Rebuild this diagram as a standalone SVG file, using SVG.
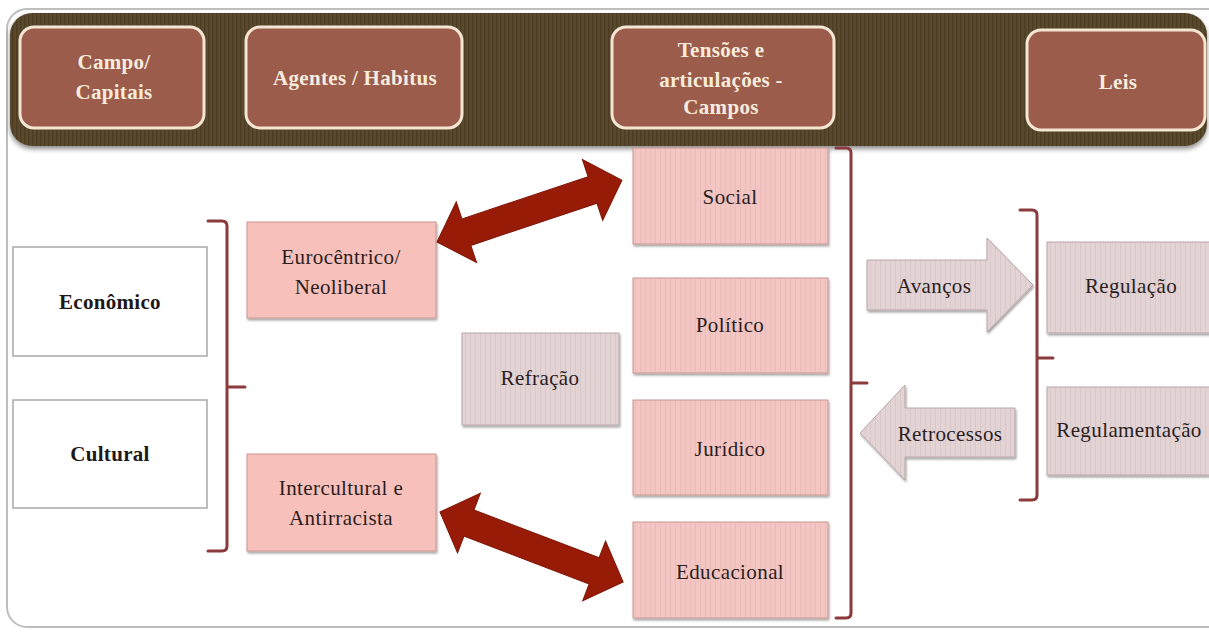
<svg xmlns="http://www.w3.org/2000/svg" width="1209" height="633" viewBox="0 0 1209 633">
<defs>
<pattern id="stripe" width="4" height="10" patternUnits="userSpaceOnUse">
<rect width="4" height="10" fill="#5a4a2d"/>
<rect width="1.5" height="10" fill="#4c3d23"/>
</pattern>
<pattern id="pinkstripe" width="5" height="10" patternUnits="userSpaceOnUse">
<rect width="5" height="10" fill="#f4c6c3"/>
<rect width="1" height="10" fill="#ecbab7"/>
</pattern>
<pattern id="greystripe" width="5" height="10" patternUnits="userSpaceOnUse">
<rect width="5" height="10" fill="#e3d3d5"/>
<rect width="1" height="10" fill="#d9c8ca"/>
</pattern>
<filter id="sh" x="-10%" y="-10%" width="125%" height="130%">
<feDropShadow dx="1" dy="2" stdDeviation="1.2" flood-color="#000" flood-opacity="0.35"/>
</filter>
<filter id="sh2" x="-10%" y="-10%" width="125%" height="130%">
<feDropShadow dx="0" dy="3" stdDeviation="2.5" flood-color="#000" flood-opacity="0.45"/>
</filter>
</defs>
<style>
.hbox{fill:#9b5c4c;stroke:#f4e6d2;stroke-width:3}
.htxt{font-weight:bold;font-size:21px;fill:#f7ecdc;text-anchor:middle;letter-spacing:0.3px}
.wbox{fill:#fff;stroke:#a9a9a9;stroke-width:1.5}
.pbox{fill:#f8c0bb;stroke:#c99692;stroke-width:1}
.sbox{fill:url(#pinkstripe);stroke:#c99692;stroke-width:1}
.gbox{fill:url(#greystripe);stroke:#b9a7a9;stroke-width:1}
.txt{font-size:21px;fill:#2a1e1e;text-anchor:middle;letter-spacing:0.4px}
.btxt{font-weight:bold;font-size:21px;fill:#1e1818;text-anchor:middle;letter-spacing:0.3px}
.brk{fill:none;stroke:#8c3b3d;stroke-width:3;stroke-linecap:round}
.big{fill:#981b08;stroke:#7e1506;stroke-width:1}
.garr{fill:url(#greystripe);stroke:#b6a5a7;stroke-width:1}
</style>
<rect x="0" y="0" width="1209" height="633" fill="#fff"/>
<rect x="7" y="9" width="1230" height="618" rx="20" fill="#fff" stroke="#bdbdbd" stroke-width="2"/>
<rect x="10" y="13" width="1197" height="133" rx="22" fill="url(#stripe)" filter="url(#sh2)"/>

<g font-family="Liberation Serif, serif">
<g id="h-campo"><rect class="hbox" x="20" y="27" width="184" height="101" rx="14"/>
<text class="htxt" x="114" y="69">Campo/</text><text class="htxt" x="114" y="99">Capitais</text></g>
<g id="h-agentes"><rect class="hbox" x="246" y="27" width="216" height="101" rx="14"/>
<text class="htxt" x="355" y="85">Agentes / Habitus</text></g>
<g id="h-tensoes"><rect class="hbox" x="612" y="27" width="222" height="101" rx="14"/>
<text class="htxt" x="721" y="57">Tensões e</text><text class="htxt" x="721" y="87">articulações -</text><text class="htxt" x="721" y="114">Campos</text></g>
<g id="h-leis"><rect class="hbox" x="1027" y="30" width="178" height="100" rx="14"/>
<text class="htxt" x="1118" y="89">Leis</text></g>

<g id="economico"><rect class="wbox" x="13" y="247" width="194" height="109"/>
<text class="btxt" x="110" y="309">Econômico</text></g>
<g id="cultural"><rect class="wbox" x="13" y="400" width="194" height="108"/>
<text class="btxt" x="110" y="461">Cultural</text></g>

<g id="eurocentrico"><rect class="pbox" x="247" y="222" width="189" height="96" filter="url(#sh)"/>
<text class="txt" x="341" y="264">Eurocêntrico/</text><text class="txt" x="341" y="294">Neoliberal</text></g>
<g id="intercultural"><rect class="pbox" x="247" y="454" width="189" height="97" filter="url(#sh)"/>
<text class="txt" x="341" y="495">Intercultural e</text><text class="txt" x="341" y="525">Antirracista</text></g>

<g id="refracao"><rect class="gbox" x="462" y="333" width="157" height="92" filter="url(#sh)"/>
<text class="txt" x="540" y="385">Refração</text></g>

<g id="social"><rect class="sbox" x="633" y="148" width="195" height="96" filter="url(#sh)"/>
<text class="txt" x="730" y="204">Social</text></g>
<g id="politico"><rect class="sbox" x="633" y="278" width="195" height="95" filter="url(#sh)"/>
<text class="txt" x="730" y="332">Político</text></g>
<g id="juridico"><rect class="sbox" x="633" y="400" width="195" height="95" filter="url(#sh)"/>
<text class="txt" x="730" y="456">Jurídico</text></g>
<g id="educacional"><rect class="sbox" x="633" y="522" width="195" height="96" filter="url(#sh)"/>
<text class="txt" x="730" y="579">Educacional</text></g>

<g id="avancos"><polygon class="garr" points="867,260 987,260 987,238 1033,285 987,332 987,310 867,310" filter="url(#sh)"/>
<text class="txt" x="934" y="293">Avanços</text></g>
<g id="retrocessos"><polygon class="garr" points="860,433 905,385 905,408 1015,408 1015,457 905,457 905,480" filter="url(#sh)"/>
<text class="txt" x="950" y="441">Retrocessos</text></g>

<g id="regulacao"><rect class="gbox" x="1047" y="242" width="170" height="91" filter="url(#sh)"/>
<text class="txt" x="1131" y="293">Regulação</text></g>
<g id="regulamentacao"><rect class="gbox" x="1047" y="387" width="170" height="88" filter="url(#sh)"/>
<text class="txt" x="1129" y="437">Regulamentação</text></g>
</g>

<g id="connectors">
<path class="brk" d="M208,221 H222 Q227,221 227,226 V546 Q227,551 222,551 H208 M227,387 H245"/>
<path class="brk" d="M836,148 H846 Q851,148 851,153 V613 Q851,618 846,618 H836 M851,383 H867"/>
<path class="brk" d="M1020,210 H1032 Q1037,210 1037,215 V495 Q1037,500 1032,500 H1020 M1037,358 H1053"/>
<polygon class="big" transform="translate(437,242) rotate(-18.5)" points="0,0 31,-32 31,-14 164,-14 164,-32 195,0 164,32 164,14 31,14 31,32"/>
<polygon class="big" transform="translate(440,512) rotate(20.9)" points="0,0 31,-32 31,-14 165,-14 165,-32 196,0 165,32 165,14 31,14 31,32"/>
</g>
</svg>
